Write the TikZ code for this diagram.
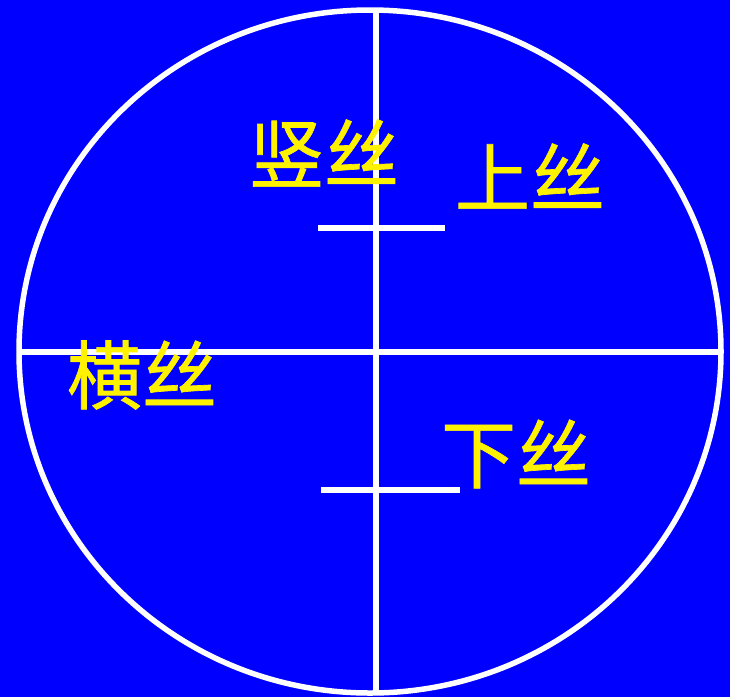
\documentclass[tikz,border=0pt]{standalone}
\usepackage{fontspec}
\newfontfamily\cjk[AutoFakeBold=0.9]{Noto Sans CJK SC}
\begin{document}
\begin{tikzpicture}[x=1pt,y=-1pt,
  wire/.style={draw=white,line width=5.5pt},
  lbl/.style={text=yellow,font=\cjk\bfseries\fontsize{75}{75}\selectfont,inner sep=0pt,anchor=center}]
\fill[blue] (0,0) rectangle (730,697);
\useasboundingbox (0,0) rectangle (730,697);
\begin{scope}
\clip (370,351.5) ellipse [x radius=351, y radius=341.5];
\draw[wire] (376,0) -- (376,697);
\draw[wire] (0,352) -- (730,352);
\end{scope}
\draw[wire] (370,351.5) ellipse [x radius=351, y radius=341.5];
\draw[wire] (318,228) -- (445,228);
\draw[wire] (321,490) -- (460,490);
\node[lbl] (shu) at (324,153) {竖丝};
\node[lbl] (shang) at (530,176) {上丝};
\node[lbl] (heng) at (142,375) {横丝};
\node[lbl] (xia) at (516,454) {下丝};
\end{tikzpicture}
\end{document}
